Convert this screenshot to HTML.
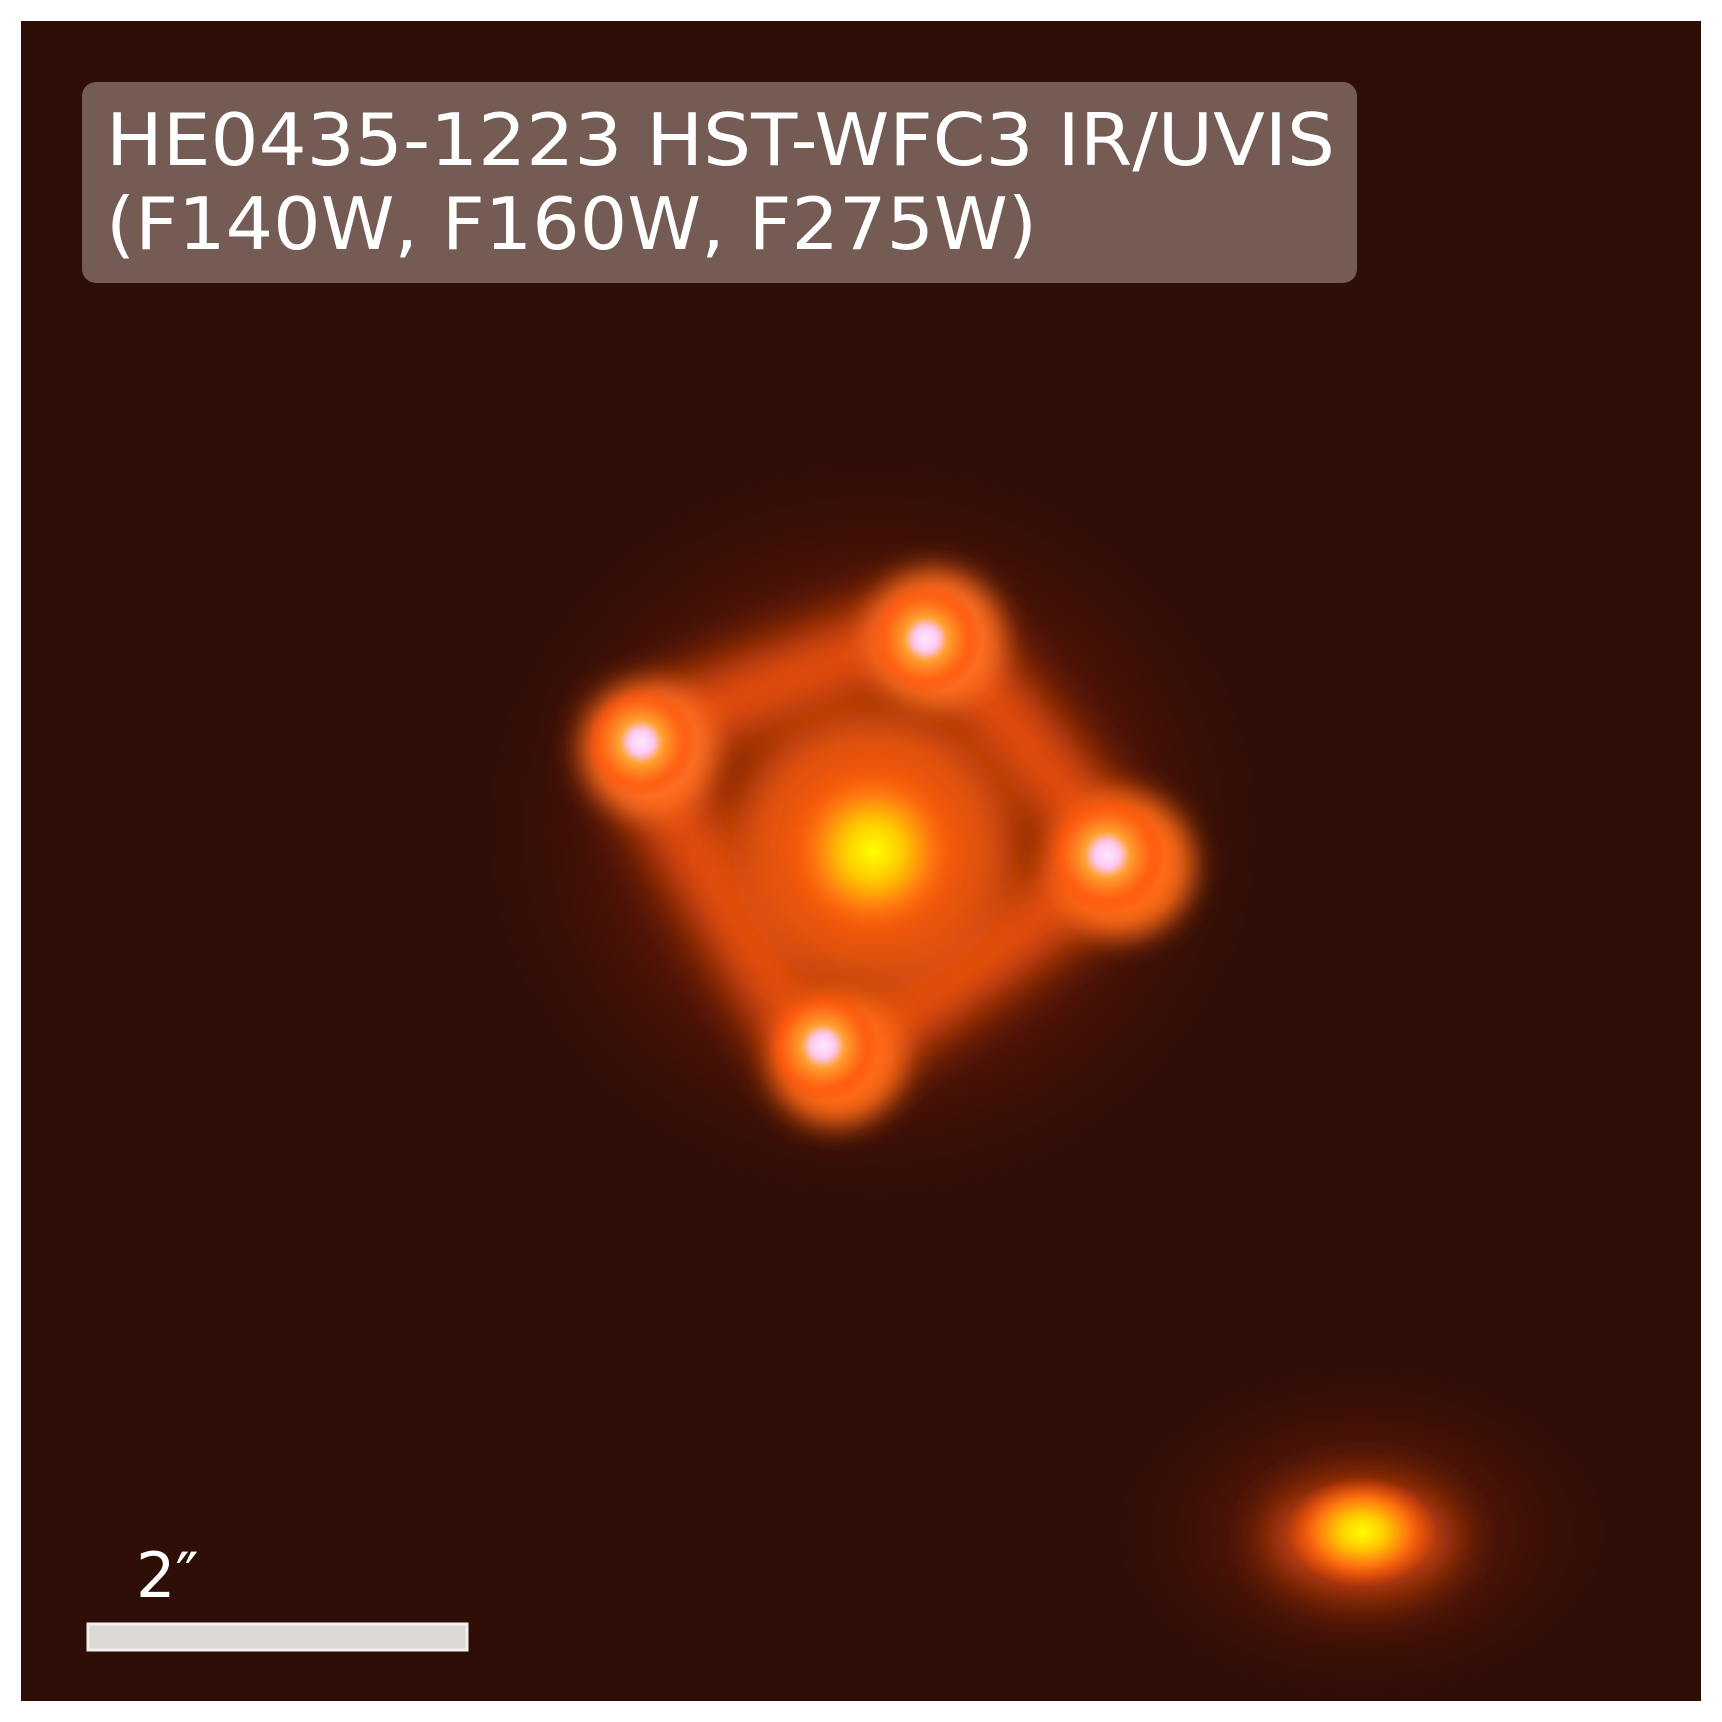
<!DOCTYPE html>
<html><head><meta charset="utf-8"><style>
html,body{margin:0;padding:0;background:#fff;}
svg{display:block}
</style></head><body>
<svg width="1722" height="1722" viewBox="0 0 1722 1722" xmlns="http://www.w3.org/2000/svg">
<defs>
<clipPath id="frame"><rect x="21" y="21" width="1680" height="1680"/></clipPath>
<filter id="b25" x="-50%" y="-50%" width="200%" height="200%"><feGaussianBlur stdDeviation="24"/></filter>
<filter id="b14" x="-50%" y="-50%" width="200%" height="200%"><feGaussianBlur stdDeviation="14"/></filter>
<radialGradient id="qso"><stop offset="0" stop-color="#ffe8ff"/><stop offset="0.22" stop-color="#ffc8f0"/><stop offset="0.4" stop-color="#ffa030"/><stop offset="0.75" stop-color="#ff6010" stop-opacity="0.8"/><stop offset="1" stop-color="#ff4000" stop-opacity="0"/></radialGradient>
<radialGradient id="gal"><stop offset="0" stop-color="#ffff00"/><stop offset="0.3" stop-color="#ffcc00"/><stop offset="0.6" stop-color="#ff7a10"/><stop offset="1" stop-color="#ff4a00" stop-opacity="0"/></radialGradient>
<radialGradient id="halo"><stop offset="0" stop-color="#c03008" stop-opacity="0.9"/><stop offset="0.55" stop-color="#7a1a04" stop-opacity="0.55"/><stop offset="1" stop-color="#3a0e05" stop-opacity="0"/></radialGradient>
</defs>
<rect x="21" y="21" width="1680" height="1680" fill="#2e0e07"/>
<g clip-path="url(#frame)">
<ellipse cx="873" cy="830" rx="420" ry="400" fill="url(#halo)"/>
<ellipse cx="1362" cy="1532" rx="280" ry="190" fill="url(#halo)" opacity="0.5"/>
<g filter="url(#b25)">
<polygon points="930,625 1120,860 825,1070 630,740" fill="none" stroke="#e85010" stroke-width="75" stroke-linejoin="round"/>
</g>
<circle cx="873" cy="851" r="140" fill="#e8560c" filter="url(#b25)"/>
<circle cx="873" cy="851" r="95" fill="url(#gal)"/>
<g filter="url(#b14)">
<circle cx="935" cy="640" r="68" fill="#ff7020"/>
<circle cx="650" cy="750" r="66" fill="#ff7020"/>
<circle cx="1122" cy="865" r="72" fill="#ff6a18"/>
<circle cx="838" cy="1058" r="66" fill="#ff6a18"/>
</g>
<circle cx="926" cy="639" r="55" fill="url(#qso)"/>
<circle cx="641" cy="742" r="55" fill="url(#qso)"/>
<circle cx="1107" cy="855" r="58" fill="url(#qso)"/>
<circle cx="823" cy="1046" r="55" fill="url(#qso)"/>
<ellipse cx="1362" cy="1538" rx="95" ry="55" fill="#d84a08" filter="url(#b25)"/>
<ellipse cx="1362" cy="1532" rx="75" ry="55" fill="url(#gal)"/>
</g>
<rect x="82" y="82" width="1275" height="201" rx="14" fill="#a08a85" fill-opacity="0.62"/>
<text x="106" y="165" font-family="DejaVu Sans, Liberation Sans, sans-serif" font-size="72" fill="#fff" textLength="1229" lengthAdjust="spacingAndGlyphs">HE0435-1223 HST-WFC3 IR/UVIS</text>
<text x="106" y="249" font-family="DejaVu Sans, Liberation Sans, sans-serif" font-size="72" fill="#fff" textLength="931" lengthAdjust="spacingAndGlyphs">(F140W, F160W, F275W)</text>
<text x="136" y="1597" font-family="DejaVu Sans, Liberation Sans, sans-serif" font-size="62" fill="#fff">2″</text>
<rect x="88" y="1624" width="379" height="26" fill="#dcd8d4" stroke="#f2f0ee" stroke-width="3"/>
</svg>
</body></html>
